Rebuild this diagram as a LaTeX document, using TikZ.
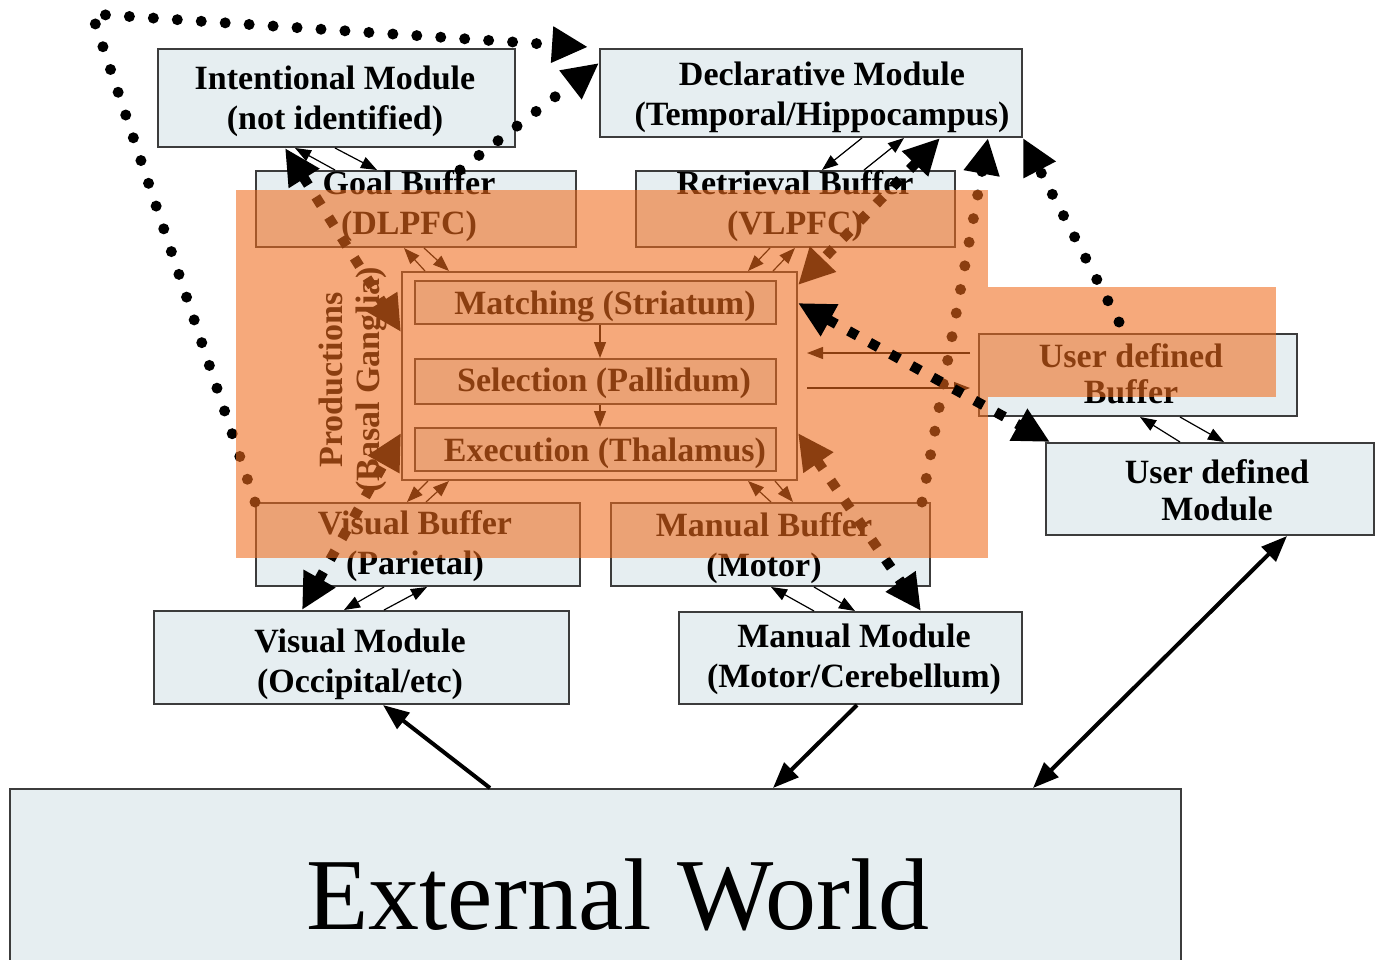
\documentclass[tikz,border=0pt]{standalone}
\usepackage{fontspec}
\setmainfont{Liberation Serif}
\usetikzlibrary{arrows.meta,fit}
\definecolor{boxfill}{RGB}{230,238,241}
\definecolor{boxline}{RGB}{60,60,60}
\definecolor{hilite}{RGB}{240,108,28}
\begin{document}
\begin{tikzpicture}[x=0.5pt,y=-0.5pt,
  box/.style={draw=boxline, fill=boxfill, line width=1pt, inner sep=0pt},
  frame/.style={draw=boxline, line width=1pt, inner sep=0pt},
  lbl/.style={font=\bfseries\fontsize{17}{20}\selectfont, align=center, inner sep=0pt},
  thinarrow/.style={line width=0.6pt, -{Triangle[length=8pt,width=6pt]}},
  thickarrow/.style={line width=2pt, -{Triangle[length=13pt,width=10pt]}},
  thickboth/.style={line width=2pt, {Triangle[length=13pt,width=10pt]}-{Triangle[length=13pt,width=10pt]}},
  bigdash/.style={line width=5pt, dash pattern=on 5pt off 7pt,
    {Triangle[length=18pt,width=17pt]}-{Triangle[length=18pt,width=17pt]}},
  bigdot/.style={line width=5.5pt, line cap=round, dash pattern=on 0pt off 12pt,
    -{Triangle[length=18pt,width=17pt]}},
  hl/.style={fill=hilite, opacity=0.58},
]
\clip (0,0) rectangle (1375,959);
\fill[white] (0,0) rectangle (1375,959);

% ---- boxes ----
\node[box, fit={(158,49) (515,147)}] (int) {};
\node[box, fit={(600,49) (1022,137)}] (dec) {};
\node[box, fit={(256,171) (576,247)}] (goal) {};
\node[box, fit={(636,171) (955,247)}] (ret) {};
\node[frame, fit={(402,272) (797,480)}] (prod) {};
\node[box, fit={(415,281) (776,324)}] (match) {};
\node[box, fit={(415,359) (776,404)}] (sel) {};
\node[box, fit={(415,428) (776,471)}] (exec) {};
\node[box, fit={(256,503) (580,586)}] (vbuf) {};
\node[box, fit={(611,503) (930,586)}] (mbuf) {};
\node[box, fit={(979,334) (1297,416)}] (ubuf) {};
\node[box, fit={(1046,443) (1374,535)}] (umod) {};
\node[box, fit={(154,611) (569,704)}] (vmod) {};
\node[box, fit={(679,612) (1022,704)}] (mmod) {};
\node[box, fit={(10,789) (1181,1000)}] (world) {};

% ---- labels ----
\node[lbl] (intT) at (335,101) {Intentional Module\\(not identified)};
\node[lbl] (decT) at (822,97) {Declarative Module\\(Temporal/Hippocampus)};
\node[lbl] (goalT) at (409,206) {Goal Buffer\\(DLPFC)};
\node[lbl] (retT) at (795,206) {Retrieval Buffer\\(VLPFC)};
\node[lbl] (matchT) at (605,306) {Matching (Striatum)};
\node[lbl] (selT) at (604,383) {Selection (Pallidum)};
\node[lbl] (execT) at (605,453) {Execution (Thalamus)};
\node[lbl] (vbufT) at (415,546) {Visual Buffer\\(Parietal)};
\node[lbl] (mbufT) at (764,548) {Manual Buffer\\(Motor)};
\node[lbl, font=\bfseries\fontsize{17}{18}\selectfont] (ubufT) at (1131,374) {User defined\\Buffer};
\node[lbl, font=\bfseries\fontsize{17}{18.5}\selectfont] (umodT) at (1217,490) {User defined\\Module};
\node[lbl] (vmodT) at (360,664) {Visual Module\\(Occipital/etc)};
\node[lbl] (mmodT) at (854,659) {Manual Module\\(Motor/Cerebellum)};
\node[lbl, rotate=90, font=\bfseries\fontsize{17}{18.5}\selectfont] (prodT) at (353,380) {Productions\\(Basal Ganglia)};
\node[inner sep=0pt, font=\fontsize{51}{55}\selectfont] (worldT) at (618,895) {External World};

% ---- buffer/module links ----
\draw[thinarrow] (335,0 |- goal.north) -- (295,0 |- int.south);
\draw[thinarrow] (335,0 |- int.south) -- (377,0 |- goal.north);
\draw[thinarrow] (425,0 |- prod.north) -- (404,0 |- goal.south);
\draw[thinarrow] (424,0 |- goal.south) -- (449,0 |- prod.north);
\draw[thinarrow] (862,0 |- dec.south) -- (822,0 |- ret.north);
\draw[thinarrow] (864,0 |- ret.north) -- (904,0 |- dec.south);
\draw[thinarrow] (770,0 |- ret.south) -- (748,0 |- prod.north);
\draw[thinarrow] (773,0 |- prod.north) -- (795,0 |- ret.south);
\draw[thinarrow] (428,0 |- prod.south) -- (407,0 |- vbuf.north);
\draw[thinarrow] (426,0 |- vbuf.north) -- (449,0 |- prod.south);
\draw[thinarrow] (771,0 |- mbuf.north) -- (748,0 |- prod.south);
\draw[thinarrow] (775,0 |- prod.south) -- (793,0 |- mbuf.north);
\draw[thinarrow] (384,0 |- vbuf.south) -- (344,0 |- vmod.north);
\draw[thinarrow] (384,0 |- vmod.north) -- (427,0 |- vbuf.south);
\draw[thinarrow] (814,0 |- mmod.north) -- (771,0 |- mbuf.south);
\draw[thinarrow] (814,0 |- mbuf.south) -- (855,0 |- mmod.north);
\draw[thinarrow] (1180,0 |- umod.north) -- (1140,0 |- ubuf.south);
\draw[thinarrow] (1180,0 |- ubuf.south) -- (1224,0 |- umod.north);
\draw[thinarrow] (600,0 |- match.south) -- (600,0 |- sel.north);
\draw[thinarrow] (600,0 |- sel.south) -- (600,0 |- exec.north);
\coordinate (ubufIn) at (807,353);
\coordinate (ubufOutS) at (807,388);
\coordinate (ubufOutE) at (970,388);
\draw[thinarrow] (970,0 |- ubufIn) -- (ubufIn);
\draw[thinarrow] (ubufOutS) -- (ubufOutE);

% ---- flows below the highlight ----
\draw[bigdash] (285,0 |- int.south) -- (prod.west |- 0,332);
\draw[bigdash] (302,0 |- vmod.north) -- (prod.west |- 0,433);
\draw[bigdash] (940,0 |- dec.south) -- (prod.east |- 0,285);
\draw[bigdash] (prod.east |- 0,433) -- (921,0 |- mmod.north);
\coordinate (turn) at (92,14);
\coordinate (decIn) at (588,47);
\draw[bigdot] (vbuf.north west) -- (turn) -- (decIn);
\draw[bigdot] (460,0 |- goal.north) -- (dec.west |- 0,63);
\draw[bigdot] (922,0 |- mbuf.north) -- (988,0 |- dec.south);

% ---- highlight ----
\fill[hl] (236,190) rectangle (988,558);
\fill[hl] (988,287) rectangle (1276,397);

% ---- flows above the highlight ----
\draw[bigdash] (prod.east |- 0,303) -- (1050,0 |- umod.north);
\coordinate (ubufTop) at (1119,322);
\draw[bigdot] (ubufTop) -- (dec.south east);
\draw[thickarrow] (490,0 |- world.north) -- (383,0 |- vmod.south);
\draw[thickarrow] (857,0 |- mmod.south) -- (773,0 |- world.north);
\draw[thickboth] (1033,0 |- world.north) -- (1287,0 |- umod.south);
\end{tikzpicture}
\end{document}
